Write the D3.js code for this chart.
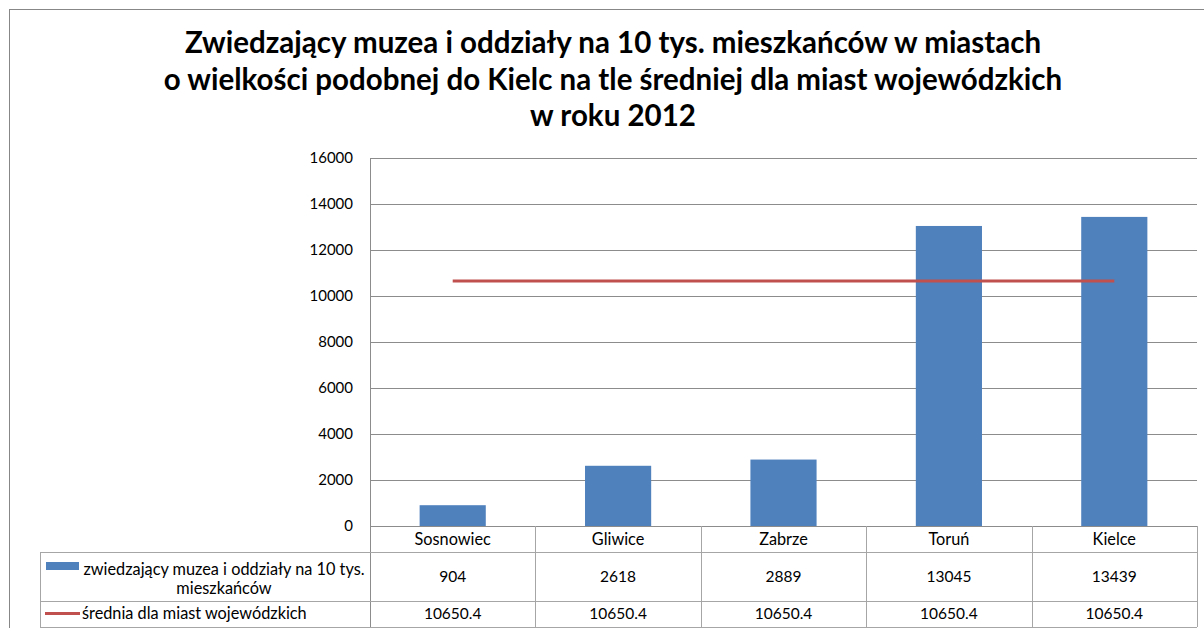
<!DOCTYPE html>
<html>
<head>
<meta charset="utf-8">
<script src="https://cdn.jsdelivr.net/npm/d3@7"></script>
<style>
  body { margin: 0; background: #fff; }
  svg { display: block; font-family: Lato, "Noto Sans", sans-serif; }
</style>
</head>
<body>
<svg id="chart" width="1204" height="628"></svg>
<script>
// Data
const categories = ["Sosnowiec", "Gliwice", "Zabrze", "Toruń", "Kielce"];
const visitors = [904, 2618, 2889, 13045, 13439];
const average = [10650.4, 10650.4, 10650.4, 10650.4, 10650.4];
const yTicks = [0, 2000, 4000, 6000, 8000, 10000, 12000, 14000, 16000];
const seriesNames = ["zwiedzający muzea i oddziały na 10 tys.|mieszkańców", "średnia dla miast wojewódzkich"];
const titleLines = [
  "Zwiedzający muzea i oddziały na 10 tys. mieszkańców w miastach",
  "o wielkości podobnej do Kielc na tle średniej dla miast wojewódzkich",
  "w roku 2012"
];

const svg = d3.select("#chart");
const gridColor = "#8c8c8c";
const lineColor = "#a6a6a6";

// chart border
svg.append("rect")
  .attr("x", 9.5).attr("y", 9.5)
  .attr("width", 1204).attr("height", 640)
  .attr("fill", "#fff")
  .attr("stroke", "#878787");

// Title
svg.append("g").selectAll("text")
  .data(titleLines)
  .join("text")
    .attr("x", 613)
    .attr("y", (d, i) => 53 + i * 36.5)
    .attr("text-anchor", "middle")
    .attr("font-weight", "bold")
    .attr("font-size", 29.5)
    .attr("fill", "#000")
    .text(d => d);

const plotLeft = 370, plotRight = 1197, plotTop = 158, plotBottom = 526;

const x = d3.scaleBand()
  .domain(categories)
  .range([plotLeft, plotRight])
  .paddingInner(0.6)
  .paddingOuter(0.3);

const y = d3.scaleLinear()
  .domain([0, 16000])
  .range([plotBottom, plotTop]);

// gridlines
svg.append("g").selectAll("line")
  .data(yTicks)
  .join("line")
    .attr("x1", plotLeft).attr("x2", plotRight)
    .attr("y1", d => Math.round(y(d)) + 0.5)
    .attr("y2", d => Math.round(y(d)) + 0.5)
    .attr("stroke", gridColor);

// y axis labels
const yAxis = svg.append("g")
  .attr("transform", `translate(${plotLeft},0)`)
  .call(d3.axisLeft(y).tickValues(yTicks).tickSize(0).tickPadding(17).tickFormat(d3.format("d")));
yAxis.select(".domain").remove();
yAxis.selectAll("text")
  .attr("font-family", "Lato, sans-serif")
  .attr("font-size", 15)
  .attr("fill", "#000");

// bars
svg.append("g").selectAll("rect")
  .data(visitors)
  .join("rect")
    .attr("x", (d, i) => x(categories[i]))
    .attr("y", d => y(d))
    .attr("width", x.bandwidth())
    .attr("height", d => y(0) - y(d))
    .attr("fill", "#4f81bd");

// average line
const line = d3.line()
  .x((d, i) => x(categories[i]) + x.bandwidth() / 2)
  .y(d => y(d));

svg.append("path")
  .datum(average)
  .attr("d", line)
  .attr("fill", "none")
  .attr("stroke", "#c0504d")
  .attr("stroke-width", 3);

// left axis line
svg.append("line")
  .attr("x1", plotLeft + 0.5).attr("x2", plotLeft + 0.5)
  .attr("y1", plotTop).attr("y2", 627)
  .attr("stroke", gridColor);

// data table
const rows = [526, 552, 601, 627];
const tableLeft = 40;
const step = x.step();
const table = svg.append("g");
const textSize = 16.3, numSize = 15.5;

// horizontal lines
rows.slice(1).forEach(r => {
  table.append("line")
    .attr("x1", tableLeft).attr("x2", plotRight)
    .attr("y1", r + 0.5).attr("y2", r + 0.5)
    .attr("stroke", lineColor);
});

// vertical lines between categories
table.selectAll(".vline")
  .data(d3.range(1, categories.length + 1))
  .join("line")
    .attr("x1", i => Math.round(plotLeft + i * step) + 0.5)
    .attr("x2", i => Math.round(plotLeft + i * step) + 0.5)
    .attr("y1", plotBottom).attr("y2", rows[3])
    .attr("stroke", lineColor);
table.append("line")
  .attr("x1", tableLeft + 0.5).attr("x2", tableLeft + 0.5)
  .attr("y1", rows[1]).attr("y2", rows[3])
  .attr("stroke", lineColor);

const cx = c => x(c) + x.bandwidth() / 2;

// category row
table.selectAll(".cat")
  .data(categories)
  .join("text")
    .attr("x", d => cx(d))
    .attr("y", 545)
    .attr("text-anchor", "middle")
    .attr("font-size", textSize)
    .text(d => d);

table.selectAll(".v1")
  .data(visitors)
  .join("text")
    .attr("x", (d, i) => cx(categories[i]))
    .attr("y", 582)
    .attr("text-anchor", "middle")
    .attr("font-size", numSize)
    .text(d => d);

table.selectAll(".v2")
  .data(average)
  .join("text")
    .attr("x", (d, i) => cx(categories[i]))
    .attr("y", 619)
    .attr("text-anchor", "middle")
    .attr("font-size", numSize)
    .text(d => d3.format(".1f")(d));

// legend keys
table.append("rect")
  .attr("x", 46).attr("y", 562)
  .attr("width", 33).attr("height", 8)
  .attr("fill", "#4f81bd");
const nameParts = seriesNames[0].split("|");
table.append("text")
  .attr("x", 224).attr("y", 575)
  .attr("text-anchor", "middle")
  .attr("font-size", textSize)
  .text(nameParts[0]);
table.append("text")
  .attr("x", 224).attr("y", 594)
  .attr("text-anchor", "middle")
  .attr("font-size", textSize)
  .text(nameParts[1]);

table.append("line")
  .attr("x1", 45).attr("x2", 80)
  .attr("y1", 613.5).attr("y2", 613.5)
  .attr("stroke", "#c0504d")
  .attr("stroke-width", 3);
table.append("text")
  .attr("x", 82).attr("y", 619)
  .attr("font-size", textSize)
  .text(seriesNames[1]);
</script>
</body>
</html>
